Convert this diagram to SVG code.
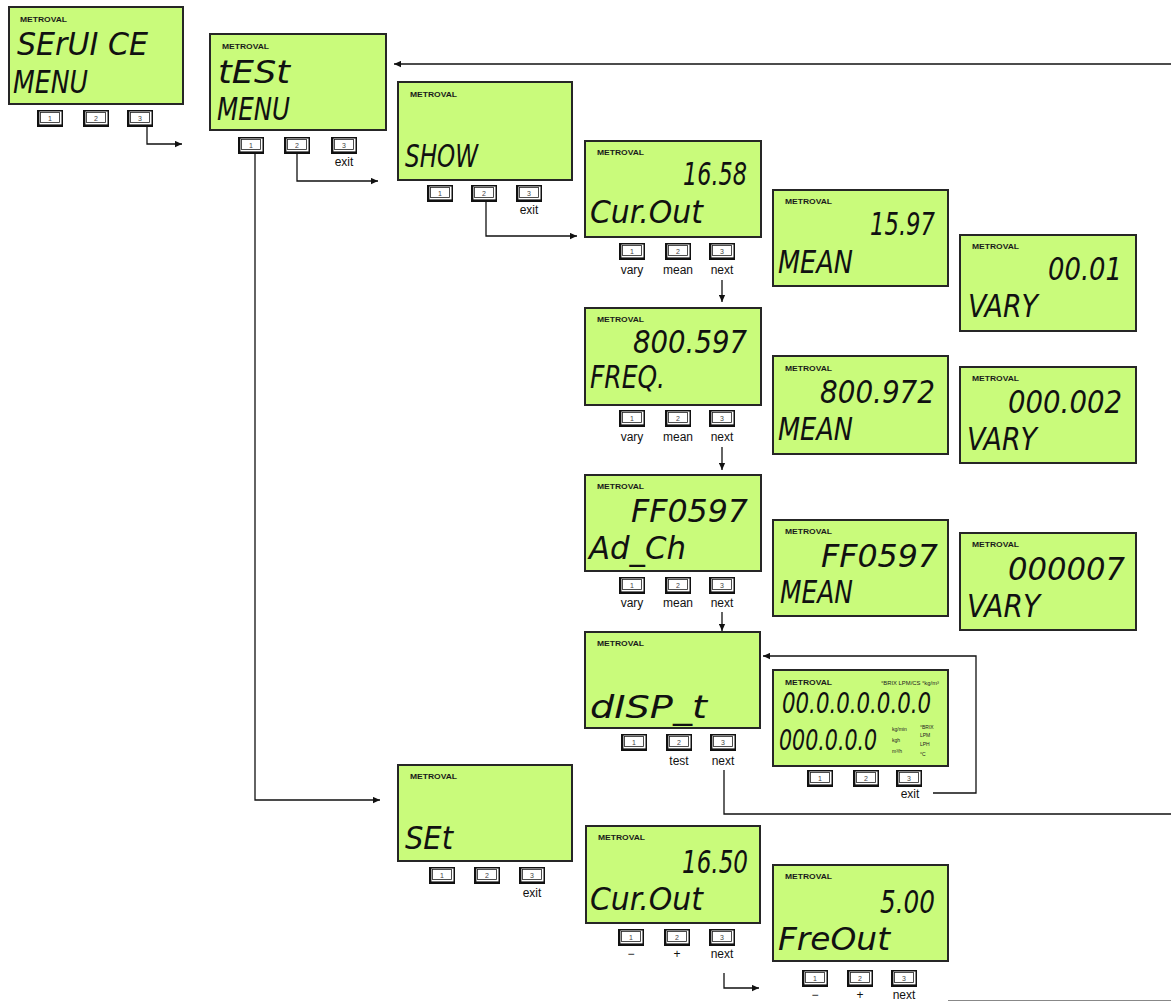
<svg xmlns="http://www.w3.org/2000/svg" xmlns:xlink="http://www.w3.org/1999/xlink" width="1171" height="1002" viewBox="0 0 1171 1002">
<style>
.lcd{fill:#c9fb7b;stroke:#262626;stroke-width:2}
.brand{font-family:"Liberation Sans",Arial,sans-serif;font-weight:bold;font-size:7.5px;fill:#1a1a1a}
.seg{font-family:"DejaVu Sans","Liberation Sans",sans-serif;font-style:oblique;font-size:32px;fill:#111}
.seg2{font-family:"DejaVu Sans","Liberation Sans",sans-serif;font-style:oblique;font-size:29px;fill:#111}
.lbl{font-family:"Liberation Sans",Arial,sans-serif;font-size:12px;fill:#111;text-anchor:middle}
.num{font-family:"Liberation Sans",Arial,sans-serif;font-size:7px;fill:#444;text-anchor:middle}
.tiny{font-family:"Liberation Sans",Arial,sans-serif;font-size:5px;fill:#222}
.wire{fill:none;stroke:#111;stroke-width:1.3}
</style>
<defs>
<marker id="ah" viewBox="0 0 10 10" refX="10" refY="5" markerWidth="8" markerHeight="7" markerUnits="userSpaceOnUse" orient="auto">
<path d="M0,0.5 L10,5 L0,9.5 z" fill="#111"/>
</marker>
<g id="key">
<rect x="0.75" y="0.75" width="24.5" height="15.5" fill="#fff" stroke="#111" stroke-width="1.5"/>
<rect x="3.5" y="2.5" width="19" height="10" fill="#fff" stroke="#222" stroke-width="0.8"/>
<line x1="0.5" y1="15.6" x2="25.5" y2="15.6" stroke="#111" stroke-width="2.4"/>
<line x1="1.4" y1="0.5" x2="1.4" y2="16.5" stroke="#111" stroke-width="2"/>
</g>
</defs>
<rect width="1171" height="1002" fill="#fff"/>

<g id="connectors">
<path class="wire" d="M147,127 V144 H182" marker-end="url(#ah)"/>
<path class="wire" d="M255,154 V800 H380" marker-end="url(#ah)"/>
<path class="wire" d="M297,154 V181 H378" marker-end="url(#ah)"/>
<path class="wire" d="M486,202 V236 H577" marker-end="url(#ah)"/>
<path class="wire" d="M722,280 V302" marker-end="url(#ah)"/>
<path class="wire" d="M722,447 V470" marker-end="url(#ah)"/>
<path class="wire" d="M722,612 V631" marker-end="url(#ah)"/>
<path class="wire" d="M724,770 V814 H1171"/>
<path class="wire" d="M933,793 H976 V656 H763" marker-end="url(#ah)"/>
<path class="wire" d="M724,973 V988 H759" marker-end="url(#ah)"/>
<path class="wire" d="M1171,64 H394" marker-end="url(#ah)"/>
<path d="M948,1000.5 H1171" fill="none" stroke="#888" stroke-width="1"/>
</g>

<g id="service-menu">
<rect class="lcd" x="9" y="7" width="174" height="97"/>
<text class="brand" x="20" y="22" textLength="47" lengthAdjust="spacingAndGlyphs">METROVAL</text>
<text class="seg" x="17" y="55" textLength="131" lengthAdjust="spacingAndGlyphs">SErUI CE</text>
<text class="seg" x="13" y="93" textLength="75" lengthAdjust="spacingAndGlyphs">MENU</text>
<use href="#key" x="37" y="110"/><text class="num" x="50" y="120.5">1</text>
<use href="#key" x="83" y="110"/><text class="num" x="96" y="120.5">2</text>
<use href="#key" x="127" y="110"/><text class="num" x="140" y="120.5">3</text>
</g>

<g id="test-menu">
<rect class="lcd" x="210" y="34" width="176" height="96"/>
<text class="brand" x="222" y="49" textLength="47" lengthAdjust="spacingAndGlyphs">METROVAL</text>
<text class="seg" x="218" y="83" textLength="72" lengthAdjust="spacingAndGlyphs">tESt</text>
<text class="seg" x="217" y="120" textLength="73" lengthAdjust="spacingAndGlyphs">MENU</text>
<use href="#key" x="238" y="137"/><text class="num" x="251" y="147.5">1</text>
<use href="#key" x="284" y="137"/><text class="num" x="297" y="147.5">2</text>
<use href="#key" x="331" y="137"/><text class="num" x="344" y="147.5">3</text>
<text class="lbl" x="344" y="166">exit</text>
</g>

<g id="show">
<rect class="lcd" x="398" y="82" width="174" height="98"/>
<text class="brand" x="410" y="97" textLength="47" lengthAdjust="spacingAndGlyphs">METROVAL</text>
<text class="seg" x="405" y="167" textLength="73" lengthAdjust="spacingAndGlyphs">SHOW</text>
<use href="#key" x="427" y="185"/><text class="num" x="440" y="195.5">1</text>
<use href="#key" x="471" y="185"/><text class="num" x="484" y="195.5">2</text>
<use href="#key" x="516" y="185"/><text class="num" x="529" y="195.5">3</text>
<text class="lbl" x="529" y="214">exit</text>
</g>

<g id="curout-show">
<rect class="lcd" x="585" y="141" width="176" height="96"/>
<text class="brand" x="597" y="155" textLength="47" lengthAdjust="spacingAndGlyphs">METROVAL</text>
<text class="seg" x="683" y="185" textLength="64" lengthAdjust="spacingAndGlyphs">16.58</text>
<text class="seg" x="590" y="223" textLength="113" lengthAdjust="spacingAndGlyphs">Cur.Out</text>
<use href="#key" x="619" y="243"/><text class="num" x="632" y="253.5">1</text>
<use href="#key" x="665" y="243"/><text class="num" x="678" y="253.5">2</text>
<use href="#key" x="709" y="243"/><text class="num" x="722" y="253.5">3</text>
<text class="lbl" x="632" y="274">vary</text>
<text class="lbl" x="678" y="274">mean</text>
<text class="lbl" x="722" y="274">next</text>
</g>

<g id="mean-curout">
<rect class="lcd" x="773" y="190" width="175" height="96"/>
<text class="brand" x="785" y="204" textLength="47" lengthAdjust="spacingAndGlyphs">METROVAL</text>
<text class="seg" x="870" y="235" textLength="65" lengthAdjust="spacingAndGlyphs">15.97</text>
<text class="seg" x="778" y="273" textLength="75" lengthAdjust="spacingAndGlyphs">MEAN</text>
</g>

<g id="vary-curout">
<rect class="lcd" x="960" y="235" width="176" height="96"/>
<text class="brand" x="972" y="249" textLength="47" lengthAdjust="spacingAndGlyphs">METROVAL</text>
<text class="seg" x="1048" y="280" textLength="74" lengthAdjust="spacingAndGlyphs">00.01</text>
<text class="seg" x="968" y="317" textLength="70" lengthAdjust="spacingAndGlyphs">VARY</text>
</g>

<g id="freq">
<rect class="lcd" x="585" y="308" width="176" height="97"/>
<text class="brand" x="597" y="322" textLength="47" lengthAdjust="spacingAndGlyphs">METROVAL</text>
<text class="seg" x="633" y="353" textLength="114" lengthAdjust="spacingAndGlyphs">800.597</text>
<text class="seg" x="590" y="388" textLength="75" lengthAdjust="spacingAndGlyphs">FREQ.</text>
<use href="#key" x="619" y="410"/><text class="num" x="632" y="420.5">1</text>
<use href="#key" x="665" y="410"/><text class="num" x="678" y="420.5">2</text>
<use href="#key" x="709" y="410"/><text class="num" x="722" y="420.5">3</text>
<text class="lbl" x="632" y="441">vary</text>
<text class="lbl" x="678" y="441">mean</text>
<text class="lbl" x="722" y="441">next</text>
</g>

<g id="mean-freq">
<rect class="lcd" x="773" y="356" width="175" height="98"/>
<text class="brand" x="785" y="371" textLength="47" lengthAdjust="spacingAndGlyphs">METROVAL</text>
<text class="seg" x="820" y="403" textLength="115" lengthAdjust="spacingAndGlyphs">800.972</text>
<text class="seg" x="778" y="440" textLength="75" lengthAdjust="spacingAndGlyphs">MEAN</text>
</g>

<g id="vary-freq">
<rect class="lcd" x="960" y="367" width="176" height="96"/>
<text class="brand" x="972" y="381" textLength="47" lengthAdjust="spacingAndGlyphs">METROVAL</text>
<text class="seg" x="1008" y="413" textLength="114" lengthAdjust="spacingAndGlyphs">000.002</text>
<text class="seg" x="967" y="450" textLength="70" lengthAdjust="spacingAndGlyphs">VARY</text>
</g>

<g id="adch">
<rect class="lcd" x="585" y="475" width="176" height="96"/>
<text class="brand" x="597" y="489" textLength="47" lengthAdjust="spacingAndGlyphs">METROVAL</text>
<text class="seg" x="631" y="522" textLength="117" lengthAdjust="spacingAndGlyphs">FF0597</text>
<text class="seg" x="589" y="559" textLength="97" lengthAdjust="spacingAndGlyphs">Ad_Ch</text>
<use href="#key" x="619" y="577"/><text class="num" x="632" y="587.5">1</text>
<use href="#key" x="665" y="577"/><text class="num" x="678" y="587.5">2</text>
<use href="#key" x="709" y="577"/><text class="num" x="722" y="587.5">3</text>
<text class="lbl" x="632" y="607">vary</text>
<text class="lbl" x="678" y="607">mean</text>
<text class="lbl" x="722" y="607">next</text>
</g>

<g id="mean-adch">
<rect class="lcd" x="773" y="520" width="175" height="96"/>
<text class="brand" x="785" y="534" textLength="47" lengthAdjust="spacingAndGlyphs">METROVAL</text>
<text class="seg" x="821" y="567" textLength="117" lengthAdjust="spacingAndGlyphs">FF0597</text>
<text class="seg" x="780" y="603" textLength="73" lengthAdjust="spacingAndGlyphs">MEAN</text>
</g>

<g id="vary-adch">
<rect class="lcd" x="960" y="533" width="176" height="97"/>
<text class="brand" x="972" y="547" textLength="47" lengthAdjust="spacingAndGlyphs">METROVAL</text>
<text class="seg" x="1008" y="580" textLength="117" lengthAdjust="spacingAndGlyphs">000007</text>
<text class="seg" x="967" y="617" textLength="73" lengthAdjust="spacingAndGlyphs">VARY</text>
</g>

<g id="disp-t">
<rect class="lcd" x="585" y="632" width="175" height="96"/>
<text class="brand" x="597" y="646" textLength="47" lengthAdjust="spacingAndGlyphs">METROVAL</text>
<text class="seg" x="590" y="718" textLength="117" lengthAdjust="spacingAndGlyphs">dISP_t</text>
<use href="#key" x="621" y="734"/><text class="num" x="634" y="744.5">1</text>
<use href="#key" x="666" y="734"/><text class="num" x="679" y="744.5">2</text>
<use href="#key" x="710" y="734"/><text class="num" x="723" y="744.5">3</text>
<text class="lbl" x="679" y="765">test</text>
<text class="lbl" x="723" y="765">next</text>
</g>

<g id="display-test">
<rect class="lcd" x="773" y="670" width="175" height="96"/>
<text class="brand" x="785" y="685" textLength="47" lengthAdjust="spacingAndGlyphs">METROVAL</text>
<text class="tiny" x="881" y="685" font-size="3.8" textLength="58" lengthAdjust="spacingAndGlyphs">°BRIX LPM/CS °kg/m³</text>
<text class="seg2" transform="translate(782,713) scale(0.735,1)" x="0" y="0">00.0.0.0.0.0.0</text>
<text class="seg2" transform="translate(779,750) scale(0.71,1)" x="0" y="0">000.0.0.0</text>
<text class="tiny" x="892" y="731">kg/min</text>
<text class="tiny" x="892" y="742">kgh</text>
<text class="tiny" x="892" y="753">m³/h</text>
<text class="tiny" x="920" y="729">°BRIX</text>
<text class="tiny" x="920" y="737">LPM</text>
<text class="tiny" x="920" y="746">LPH</text>
<text class="tiny" x="920" y="756">°C</text>
<use href="#key" x="807" y="770"/><text class="num" x="820" y="780.5">1</text>
<use href="#key" x="853" y="770"/><text class="num" x="866" y="780.5">2</text>
<use href="#key" x="896" y="770"/><text class="num" x="909" y="780.5">3</text>
<text class="lbl" x="910" y="798">exit</text>
</g>

<g id="set">
<rect class="lcd" x="398" y="765" width="174" height="96"/>
<text class="brand" x="410" y="779" textLength="47" lengthAdjust="spacingAndGlyphs">METROVAL</text>
<text class="seg" x="405" y="849" textLength="48" lengthAdjust="spacingAndGlyphs">SEt</text>
<use href="#key" x="429" y="867"/><text class="num" x="442" y="877.5">1</text>
<use href="#key" x="474" y="867"/><text class="num" x="487" y="877.5">2</text>
<use href="#key" x="519" y="867"/><text class="num" x="532" y="877.5">3</text>
<text class="lbl" x="532" y="897">exit</text>
</g>

<g id="curout-set">
<rect class="lcd" x="586" y="826" width="174" height="97"/>
<text class="brand" x="598" y="840" textLength="47" lengthAdjust="spacingAndGlyphs">METROVAL</text>
<text class="seg" x="682" y="873" textLength="66" lengthAdjust="spacingAndGlyphs">16.50</text>
<text class="seg" x="590" y="910" textLength="113" lengthAdjust="spacingAndGlyphs">Cur.Out</text>
<use href="#key" x="618" y="929"/><text class="num" x="631" y="939.5">1</text>
<use href="#key" x="664" y="929"/><text class="num" x="677" y="939.5">2</text>
<use href="#key" x="709" y="929"/><text class="num" x="722" y="939.5">3</text>
<text class="lbl" x="631" y="958">−</text>
<text class="lbl" x="677" y="958">+</text>
<text class="lbl" x="722" y="958">next</text>
</g>

<g id="freout-set">
<rect class="lcd" x="773" y="865" width="175" height="96"/>
<text class="brand" x="785" y="879" textLength="47" lengthAdjust="spacingAndGlyphs">METROVAL</text>
<text class="seg" x="880" y="913" textLength="55" lengthAdjust="spacingAndGlyphs">5.00</text>
<text class="seg" x="778" y="950" textLength="112" lengthAdjust="spacingAndGlyphs">FreOut</text>
<use href="#key" x="802" y="970"/><text class="num" x="815" y="980.5">1</text>
<use href="#key" x="847" y="970"/><text class="num" x="860" y="980.5">2</text>
<use href="#key" x="891" y="970"/><text class="num" x="904" y="980.5">3</text>
<text class="lbl" x="815" y="999" font-size="11">−</text>
<text class="lbl" x="860" y="999" font-size="11">+</text>
<text class="lbl" x="904" y="999" font-size="11">next</text>
</g>
</svg>
